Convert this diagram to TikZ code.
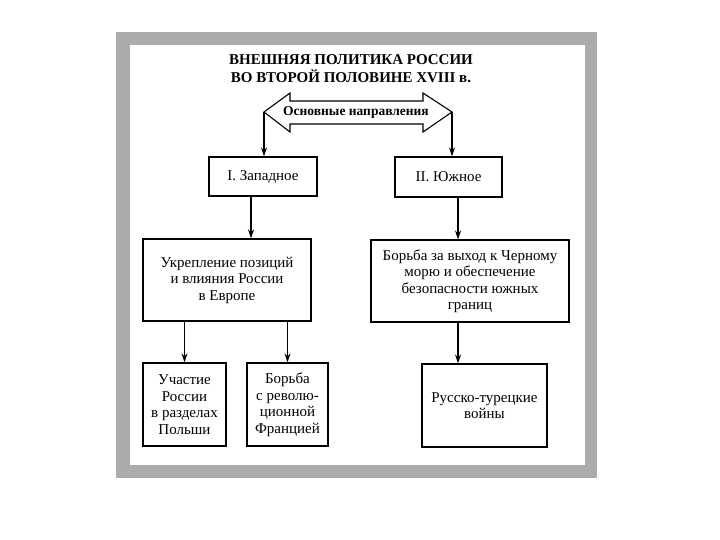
\documentclass[tikz,border=0pt]{standalone}
\usepackage{fontspec}
\setmainfont{Liberation Serif}
\usetikzlibrary{arrows.meta}
\definecolor{frame_gray}{HTML}{ABABAB}

\begin{document}
\begin{tikzpicture}[x=1pt, y=-1pt,
    box/.style={draw, line width=1.1pt, align=center, inner sep=0pt,
      font=\fontsize{15}{16.5}\selectfont},
    arr/.style={-{Stealth[length=9pt, width=6pt]}, line width=1.1pt}]

      % Page and grey frame
      \useasboundingbox (0,0) rectangle (720,540);
      \fill[frame_gray] (116,32) rectangle (597,478);
      \fill[white] (130,45) rectangle (585,465);

      % Title
      \node[align=center, font=\bfseries\fontsize{15}{18}\selectfont] (title) at (351,69)
        {ВНЕШНЯЯ ПОЛИТИКА РОССИИ\\ВО ВТОРОЙ ПОЛОВИНЕ XVIII в.};

      % Draw the hollow double arrow
      \coordinate (ltip) at (264,112);
      \coordinate (rtip) at (452,112);
      \draw[line width=1.1pt, fill=white] (ltip) -- (290,93) -- (290,101) -- (423,101)
        -- (423,93) -- (rtip) -- (423,132) -- (423,124) -- (290,124) -- (290,132) -- cycle;
      \node[font=\bfseries\fontsize{13.5}{15}\selectfont] (dirs) at (356,112) {Основные направления};

      % Draw the boxes
      \node[box, minimum width=108pt, minimum height=39pt] (west) at (263,176.5) {I. Западное};
      \node[box, minimum width=107pt, minimum height=40pt] (south) at (448.5,177) {II. Южное};
      \node[box, minimum width=168pt, minimum height=82pt] (euro) at (227,280)
        {Укрепление позиций\\и влияния России\\в Европе};
      \node[box, minimum width=198pt, minimum height=82pt] (sea) at (470,281)
        {Борьба за выход к Черному\\морю и обеспечение\\безопасности южных\\границ};
      \node[box, minimum width=83pt, minimum height=83pt] (poland) at (184.5,404.5)
        {Участие\\России\\в разделах\\Польши};
      \node[box, minimum width=81pt, minimum height=83pt] (france) at (287.5,404.5)
        {Борьба\\с револю-\\ционной\\Францией};
      \node[box, minimum width=125pt, minimum height=83pt] (wars) at (484.5,405.5)
        {Русско-турецкие\\войны};

      % Draw the arrows
      \draw[arr] (ltip) -- (ltip |- west.north);
      \draw[arr] (rtip) -- (rtip |- south.north);
      \draw[arr] ([xshift=-12pt]west.south) -- ([xshift=-12pt]west.south |- euro.north);
      \draw[arr] ([xshift=9.5pt]south.south) -- ([xshift=9.5pt]south.south |- sea.north);
      \draw[arr] (euro.south -| poland.north) -- (poland.north);
      \draw[arr] (euro.south -| france.north) -- (france.north);
      \draw[arr] ([xshift=-12pt]sea.south) -- ([xshift=-12pt]sea.south |- wars.north);

\end{tikzpicture}
\end{document}
